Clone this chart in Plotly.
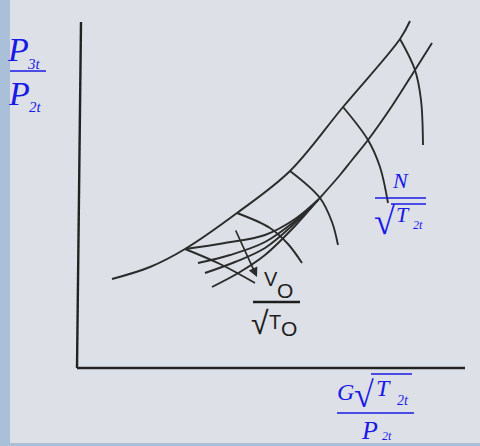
import plotly.graph_objects as go

# ---- data (schematic compressor map, arbitrary units: x = corrected flow, y = pressure ratio) ----
surge_x = [32, 70, 105, 157, 210, 263, 320, 330]
surge_y = [89, 101, 119, 155, 197, 261, 329, 347]

upper_x = [238, 260, 272, 288, 312, 335, 352]
upper_y = [168, 193, 208, 228, 262, 298, 325]

fan1_x = [105, 145, 185, 215, 238]
fan1_y = [119, 125, 133, 149, 168]
fan2_x = [118, 150, 185, 215, 238]
fan2_y = [105, 113, 126, 147, 168]
fan3_x = [125, 155, 185, 215, 238]
fan3_y = [95, 106, 120, 145, 168]
fan4_x = [132, 160, 185, 215, 238]
fan4_y = [81, 96, 113, 142, 168]

speed1_x = [105, 140, 175]
speed1_y = [119, 104, 85]
speed2_x = [157, 190, 208, 222]
speed2_y = [155, 140, 124, 105]
speed3_x = [210, 240, 252, 258]
speed3_y = [197, 170, 146, 123]
speed4_x = [263, 288, 300, 308]
speed4_y = [261, 228, 201, 165]
speed5_x = [320, 335, 341, 343]
speed5_y = [329, 298, 268, 223]

arrow_tail = (155, 139)
arrow_head = (177, 91)

W, H = 480, 446
BLUE = "#1a1ae6"
INK = "#2b2b2b"
BG = "#dde0e6"
STRIP = "#a9c0d8"

fig = go.Figure()

# axes drawn as lines
fig.add_trace(go.Scatter(x=[-3, 1], y=[0, 346], mode="lines",
                         line=dict(color="#222", width=2.4), hoverinfo="skip"))
fig.add_trace(go.Scatter(x=[-3, 385], y=[0, 0], mode="lines",
                         line=dict(color="#222", width=2.4), hoverinfo="skip"))

curves = [(surge_x, surge_y), (upper_x, upper_y),
          (fan1_x, fan1_y), (fan2_x, fan2_y), (fan3_x, fan3_y), (fan4_x, fan4_y),
          (speed1_x, speed1_y), (speed2_x, speed2_y), (speed3_x, speed3_y),
          (speed4_x, speed4_y), (speed5_x, speed5_y)]
for cx, cy in curves:
    fig.add_trace(go.Scatter(x=cx, y=cy, mode="lines",
                             line=dict(color=INK, width=1.9, shape="spline", smoothing=1.0),
                             hoverinfo="skip"))


def px(x, y):
    return x / W, 1 - y / H


annotations = []


def label(text, x, y, size, color=BLUE, family="Liberation Serif"):
    X, Y = px(x, y)
    annotations.append(dict(text=text, x=X, y=Y, xref="paper", yref="paper",
                            xanchor="center", yanchor="middle", showarrow=False,
                            font=dict(size=size, color=color, family=family)))


shapes = []


def hline(x0, x1, y, color=BLUE, width=1.6):
    X0, Y0 = px(x0, y)
    X1, _ = px(x1, y)
    shapes.append(dict(type="line", xref="paper", yref="paper", x0=X0, x1=X1, y0=Y0, y1=Y0,
                       line=dict(color=color, width=width)))


# y-axis label  P3t / P2t
label("<i>P</i>", 18, 50, 34)
label("<i>3t</i>", 34, 64, 15)
hline(6, 46, 71)
label("<i>P</i>", 19, 94, 34)
label("<i>2t</i>", 35, 107, 15)

# N / sqrt(T2t)
label("<i>N</i>", 400, 181, 22)
hline(375, 426, 198)
label("√", 384, 221, 38)
hline(391, 426, 204, width=1.4)
label("<i>T</i>", 403, 214, 22)
label("<i>2t</i>", 418, 225, 12)

# V0 / sqrt(T0)
SANS = "Liberation Sans"
label("V", 271, 279, 20, "#1e1e1e", SANS)
label("O", 285, 290, 21, "#1e1e1e", SANS)
hline(253, 300, 302, color="#1e1e1e", width=2.6)
label("√", 260, 323, 32, "#1e1e1e", SANS)
label("T", 275, 322, 20, "#1e1e1e", SANS)
label("O", 289, 328, 21, "#1e1e1e", SANS)

# x-axis label  G sqrt(T2t) / P2t
label("<i>G</i>", 345, 392, 24)
label("√", 364, 395, 36)
hline(371, 412, 374, width=1.4)
label("<i>T</i>", 383, 388, 24)
label("<i>2t</i>", 403, 400, 14)
hline(337, 414, 413)
label("<i>P</i>", 369, 430, 26)
label("<i>2t</i>", 387, 436, 12)

# arrow
annotations.append(dict(x=arrow_head[0], y=arrow_head[1], ax=arrow_tail[0], ay=arrow_tail[1],
                        xref="x", yref="y", axref="x", ayref="y", text="", showarrow=True,
                        arrowhead=2, arrowsize=1.1, arrowwidth=1.7, arrowcolor=INK))

# side strips
shapes.append(dict(type="rect", xref="paper", yref="paper", x0=0, x1=10 / W, y0=0, y1=1,
                   fillcolor=STRIP, line=dict(width=0), layer="above"))
shapes.append(dict(type="rect", xref="paper", yref="paper", x0=0, x1=1, y0=0, y1=3 / H,
                   fillcolor=STRIP, line=dict(width=0), layer="above"))

fig.update_layout(
    width=W, height=H, autosize=False,
    margin=dict(l=0, r=0, t=0, b=0),
    paper_bgcolor=BG, plot_bgcolor=BG,
    showlegend=False,
    xaxis=dict(range=[-80, 400], visible=False, fixedrange=True),
    yaxis=dict(range=[-78, 368], visible=False, fixedrange=True),
    annotations=annotations, shapes=shapes,
)

fig.write_html("out.html", config={"displayModeBar": False},
               post_script="document.body.style.margin='0';document.body.style.overflow='hidden';")
